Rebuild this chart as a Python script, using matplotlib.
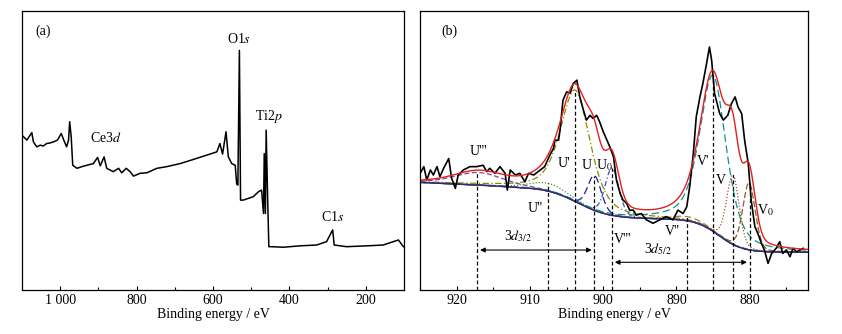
import numpy as np
import matplotlib
matplotlib.use("Agg")
import matplotlib.pyplot as plt
from matplotlib.ticker import MultipleLocator, FixedLocator

plt.rcParams['font.family'] = ['Liberation Serif', 'DejaVu Serif']
plt.rcParams['mathtext.fontset'] = 'stix'
plt.rcParams['font.size'] = 10

# ---------------- Panel (a): survey spectrum ----------------
survey_be = [1100, 1087, 1074, 1070, 1061, 1052, 1044, 1035, 1026, 1017, 1007, 997, 991, 983, 978, 975, 971,
             967, 956, 943, 930, 913, 902, 895, 885, 878, 861, 847, 839, 827, 817, 808, 791, 773, 747,
             721, 686, 651, 617, 590, 582, 575, 566, 560, 551, 542, 538, 535, 531, 528, 521, 508, 495,
             481, 473, 468, 466, 463, 461, 457, 454, 447, 416, 373, 329, 303, 287, 283, 251, 198, 155, 115, 102]
survey_int = [55.5, 53.7, 56.4, 53.1, 51.3, 51.9, 51.6, 52.5, 52.7, 53.1, 53.7, 56.1, 53.9, 51.3, 53.7, 60.3, 54.9,
              44.7, 43.6, 44.2, 44.7, 45.3, 47.5, 44.5, 47.7, 43.6, 42.4, 43.6, 42.0, 43.6, 42.4, 40.8, 41.8, 42.0, 43.6,
              44.2, 45.3, 46.8, 48.3, 49.5, 52.5, 48.7, 56.7, 47.7, 45.3, 44.7, 37.9, 37.6, 85.9, 32.2, 32.2, 32.8, 33.4,
              35.2, 35.8, 27.4, 48.9, 27.4, 57.3, 32.2, 15.5, 15.5, 15.3, 15.8, 16.1, 17.3, 21.5, 16.1, 15.5, 15.8, 16.1, 17.9, 15.5]

survey_labels = ['O1$s$', 'Ti2$p$', 'Ce3$d$', 'C1$s$']
survey_label_x = [531, 455, 880, 287]
survey_label_y = [87.5, 59.0, 52.0, 23.5]

# ---------------- Panel (b): Ce 3d ----------------
ce_be = [925.0, 924.5, 924.1, 923.6, 923.2, 922.7, 922.3, 921.8, 921.1, 920.7, 920.2, 919.8, 919.1, 918.2,
         917.3, 916.4, 915.9, 915.5, 914.8, 914.1, 913.4, 913.1, 912.7, 912.0, 911.4, 910.7, 910.2, 909.5,
         908.6, 908.0, 907.3, 906.8, 906.6, 906.1, 905.9, 905.5, 905.0, 904.5, 904.1, 903.6, 903.2, 902.7,
         902.3, 901.8, 901.4, 900.9, 900.5, 900.0, 899.5, 899.1, 898.6, 898.2, 897.7, 897.3, 896.8, 896.4,
         895.9, 895.5, 894.8, 894.1, 893.2, 892.3, 891.4, 890.5, 889.8, 889.1, 888.6, 888.2, 887.7, 887.3,
         886.8, 886.4, 885.9, 885.5, 885.2, 884.8, 884.1, 883.6, 883.0, 882.5, 882.0, 881.6, 881.1, 880.7,
         880.2, 879.8, 879.3, 878.9, 878.4, 878.0, 877.5, 877.0, 876.4, 875.9, 875.5, 875.0, 874.5, 874.1,
         873.6, 872.7]
ce_int = [41.8, 44.2, 39.4, 43.0, 41.2, 44.2, 40.6, 43.6, 47.1, 40.0, 36.4, 41.2, 43.0, 44.2,
          44.2, 44.7, 42.4, 43.6, 41.8, 44.2, 41.8, 35.8, 43.0, 41.2, 41.8, 38.8, 41.8, 41.2,
          43.0, 44.2, 48.3, 50.7, 53.7, 53.7, 57.3, 68.0, 71.0, 70.6, 74.0, 75.2, 69.2, 64.4,
          60.9, 62.6, 61.5, 62.6, 60.3, 56.7, 53.7, 51.3, 47.7, 39.4, 34.6, 32.2, 31.0, 28.6,
          28.6, 26.8, 27.4, 25.1, 23.9, 25.1, 26.3, 25.1, 28.6, 27.4, 29.8, 37.0, 48.9, 62.1,
          69.2, 74.0, 81.1, 87.1, 82.3, 70.4, 63.2, 60.9, 62.6, 66.8, 69.2, 65.6, 63.2, 53.7,
          45.3, 32.2, 22.7, 20.3, 16.7, 14.3, 9.5, 13.1, 14.9, 17.3, 13.1, 14.3, 11.9, 14.9,
          13.7, 14.9]

# Shirley-like background: base level, step heights, step centres, step widths
bg_base = 13.5
bg_steps_h = [12.0, 11.5]
bg_steps_c = [884.2, 903.5]
bg_steps_w = [1.6, 2.2]
bg_left_slope = 0.12
bg_slope_start = 912.0

# Fitted components: centre (eV), height, FWHM (eV), lorentz fraction
comp_center = [917.0, 907.5, 903.8, 901.2, 898.8, 888.5, 885.0, 882.3, 880.1]
comp_height = [4.5, 2.8, 40.0, 12.5, 17.0, 1.5, 56.0, 25.0, 24.0]
comp_fwhm = [8.0, 6.0, 4.8, 2.2, 2.2, 5.0, 4.3, 2.0, 2.0]
comp_eta = [0.3, 0.3, 0.5, 0.2, 0.2, 0.3, 0.5, 0.2, 0.2]
comp_color = ['#9040a0', '#30a030', '#8a8a00', '#202090', '#3050c0', '#a08030', '#109090', '#a0522d', '#8b5a2b']
comp_style = [(0, (4, 2)), (0, (1, 1.5)), (0, (5, 2, 1, 2)), (0, (6, 3)), (0, (4, 2, 1, 2)),
              (0, (5, 3)), (0, (6, 3)), (0, (1, 1.5)), (0, (5, 2))]

# vertical marker lines (BE) and their labels
mark_be = [917.2, 907.5, 903.8, 901.2, 898.8, 888.5, 885.0, 882.3, 880.0]
label_text = ["U'''", "U'", "U", "U$_0$", "U''", "V'''", "V''", "V'", "V", "V$_0$"]
label_x = [917.0, 905.4, 902.3, 899.8, 909.3, 897.3, 890.5, 886.4, 883.9, 877.8]
label_y = [49.5, 45.3, 44.7, 44.7, 29.2, 17.9, 20.9, 45.9, 39.4, 28.6]

# splitting arrows
arrow_32 = (917.2, 901.2, 14.3)
arrow_52 = (898.8, 880.0, 9.9)


def background(x):
    x = np.asarray(x, float)
    y = np.full_like(x, bg_base)
    for h, c, w in zip(bg_steps_h, bg_steps_c, bg_steps_w):
        y += h / (1 + np.exp(-(x - c) / w))
    y += bg_left_slope * np.clip(x - bg_slope_start, 0, None)
    return y


def pvoigt(x, c, h, fwhm, eta):
    s = fwhm / 2.3548
    g = np.exp(-(x - c) ** 2 / (2 * s * s))
    l = 1 / (1 + ((x - c) / (fwhm / 2)) ** 2)
    return h * (eta * l + (1 - eta) * g)


fig = plt.figure(figsize=(8.42, 3.34), dpi=100)
ax1 = fig.add_axes([0.026, 0.132, 0.454, 0.835])
ax2 = fig.add_axes([0.499, 0.132, 0.461, 0.835])

for ax in (ax1, ax2):
    ax.set_ylim(0, 100)
    ax.set_yticks([])
    ax.tick_params(axis='x', direction='in', length=3, width=0.8, labelsize=10, pad=3)
    ax.tick_params(axis='x', which='minor', direction='in', length=2, width=0.8)
    for sp in ax.spines.values():
        sp.set_linewidth(0.9)
    ax.set_xlabel('Binding energy / eV', fontsize=10, labelpad=1)

# Panel (a)
ax1.plot(survey_be, survey_int, color='black', lw=1.1)
ax1.set_xlim(1100, 100)
ax1.xaxis.set_major_locator(FixedLocator([1000, 800, 600, 400, 200]))
ax1.xaxis.set_minor_locator(FixedLocator([900, 700, 500, 300]))
ax1.set_xticklabels(['1 000', '800', '600', '400', '200'])
for t, x, y in zip(survey_labels, survey_label_x, survey_label_y):
    ax1.text(x, y, t, ha='center', va='bottom', fontsize=10)
ax1.text(0.035, 0.95, '(a)', transform=ax1.transAxes, ha='left', va='top', fontsize=10)

# Panel (b)
xx = np.linspace(925, 872, 800)
bg = background(xx)
total = bg.copy()
for c, h, w, e, col, ls in zip(comp_center, comp_height, comp_fwhm, comp_eta, comp_color, comp_style):
    comp = pvoigt(xx, c, h, w, e)
    total += comp
    ax2.plot(xx, bg + comp, color=col, lw=0.9, linestyle=ls)
ax2.plot(xx, bg, color='#2a2a80', lw=1.0)
ax2.plot(ce_be, ce_int, color='black', lw=1.2)
ax2.plot(xx, total, color='#e02020', lw=1.0)

# vertical dashed markers
for m in mark_be:
    i = np.argmin(np.abs(xx - m))
    top_val = bg[i]
    for c, h, w, e in zip(comp_center, comp_height, comp_fwhm, comp_eta):
        if abs(c - m) < 0.5:
            top_val = bg[i] + pvoigt(xx[i], c, h, w, e)
    ax2.plot([m, m], [0, top_val], color='black', lw=0.9, linestyle=(0, (3, 2)))

for t, x, y in zip(label_text, label_x, label_y):
    ax2.text(x, y, t, ha='center', va='center', fontsize=10)

for (x0, x1, y), lab, lx in [(arrow_32, '3$d_{3/2}$', 911.6), (arrow_52, '3$d_{5/2}$', 892.5)]:
    ax2.annotate('', xy=(x1, y), xytext=(x0, y),
                 arrowprops=dict(arrowstyle='<|-|>', color='black', lw=0.8, mutation_scale=7))
    ax2.text(lx, y + 2.0, lab, ha='center', va='bottom', fontsize=10)

ax2.set_xlim(925, 872)
ax2.xaxis.set_major_locator(MultipleLocator(10))
ax2.xaxis.set_minor_locator(MultipleLocator(5))
ax2.text(0.055, 0.95, '(b)', transform=ax2.transAxes, ha='left', va='top', fontsize=10)

fig.savefig('out.png', dpi=100)
